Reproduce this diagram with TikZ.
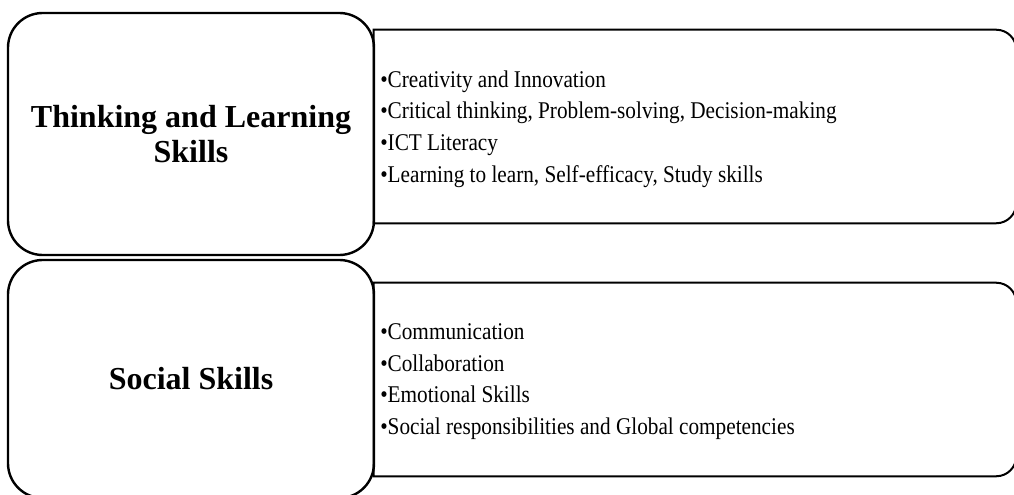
\documentclass[tikz,border=0pt]{standalone}
\usepackage{fontspec}
\setmainfont{Liberation Serif}
\newfontfamily\itemfont[FakeStretch=0.885]{Liberation Serif}
\begin{document}
\begin{tikzpicture}[x=0.75pt,y=-0.75pt,
  leftbox/.style={draw=black,line width=1.8pt,rounded corners=26pt,inner sep=0pt,
    minimum width=274.5pt,align=center,
    font=\bfseries\fontsize{24}{26.25}\selectfont},
  rightframe/.style={draw=none,inner sep=0pt,minimum width=481.5pt,minimum height=144.75pt},
  rightline/.style={draw=black,line width=1.5pt},
  itemtext/.style={inner sep=0pt,anchor=west,align=left,font=\itemfont\fontsize{18}{23.8}\selectfont}]
\useasboundingbox[fill=white] (0,0) rectangle (1014,495);
% right boxes
\node[rightframe] (r1) at (695,126.5) {};
\node[rightframe] (r2) at (695,379.5) {};
\draw[rightline] (r1.north west) -- ([xshift=-15pt]r1.north east)
  arc[start angle=90,end angle=0,radius=15pt] -- ([yshift=15pt]r1.south east)
  arc[start angle=0,end angle=-90,radius=15pt] -- (r1.south west) -- cycle;
\draw[rightline] (r2.north west) -- ([xshift=-15pt]r2.north east)
  arc[start angle=90,end angle=0,radius=15pt] -- ([yshift=15pt]r2.south east)
  arc[start angle=0,end angle=-90,radius=15pt] -- (r2.south west) -- cycle;
% left boxes
\node[leftbox,minimum height=181.5pt] (l1) at (191,134) {Thinking and Learning\\Skills};
\node[leftbox,minimum height=178.5pt] (l2) at (191,379) {Social Skills};
% item lists
\node[itemtext] (t1) at (380,129) {•Creativity and Innovation\\
  •Critical thinking, Problem-solving, Decision-making\\
  •ICT Literacy\\
  •Learning to learn, Self-efficacy, Study skills};
\node[itemtext] (t2) at (380,381.5) {•Communication\\
  •Collaboration\\
  •Emotional Skills\\
  •Social responsibilities and Global competencies};
\end{tikzpicture}
\end{document}
